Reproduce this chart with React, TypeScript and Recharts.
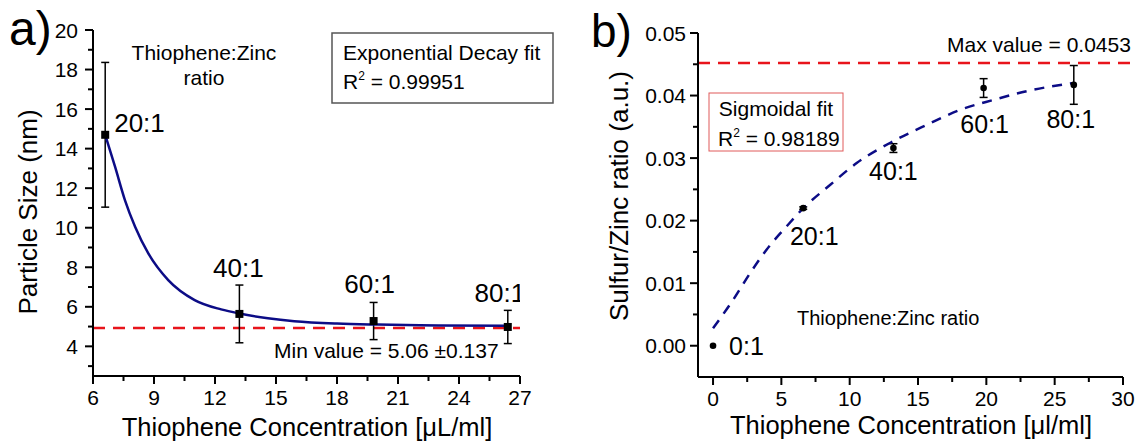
import React from 'react';
import { ComposedChart, Scatter, XAxis, YAxis, ErrorBar, ReferenceLine } from 'recharts';

// ---------- Panel a) data ----------
const aConc = [6.6, 13.2, 19.8, 26.4];
const aSize = [14.7, 5.64, 5.28, 4.98];
const aErr = [3.66, 1.46, 0.94, 0.84];
const aLabels = ['20:1', '40:1', '60:1', '80:1'];
const aFitX = [6.6, 7.08, 7.57, 8.07, 8.72, 9.7, 11.0, 12.3, 13.2, 14.6, 15.9, 18.0, 20.0, 23.0, 26.4];
const aFitY = [14.7, 13.1, 11.4, 10.05, 8.7, 7.35, 6.34, 5.87, 5.66, 5.42, 5.27, 5.15, 5.1, 5.06, 5.04];
const aMinLine = 4.93;
const aXTicks = [6, 7.5, 9, 10.5, 12, 13.5, 15, 16.5, 18, 19.5, 21, 22.5, 24, 25.5, 27];
const aXMajor = [6, 9, 12, 15, 18, 21, 24, 27];
const aYTicks = [3, 4, 5, 6, 7, 8, 9, 10, 11, 12, 13, 14, 15, 16, 17, 18, 19, 20];
const aYMajor = [4, 6, 8, 10, 12, 14, 16, 18, 20];

// ---------- Panel b) data ----------
const bConc = [0, 6.6, 13.2, 19.8, 26.4];
const bRatio = [0, 0.022, 0.0316, 0.0412, 0.0417];
const bErr = [0, 0.0002, 0.0007, 0.0015, 0.0031];
const bLabels = ['0:1', '20:1', '40:1', '60:1', '80:1'];
const bFitX = [0, 1.49, 2.71, 3.93, 5.39, 6.61, 8.56, 10.51, 13.19, 15.63, 18.07, 20.51, 22.95, 26.36];
const bFitY = [0.0028, 0.0074, 0.0116, 0.0154, 0.0191, 0.022, 0.0257, 0.0292, 0.0327, 0.0353, 0.0377, 0.0393, 0.0407, 0.042];
const bMaxLine = 0.0452;
const bXTicks = [0, 2.5, 5, 7.5, 10, 12.5, 15, 17.5, 20, 22.5, 25, 27.5, 30];
const bXMajor = [0, 5, 10, 15, 20, 25, 30];
const bYTicks = [0, 0.005, 0.01, 0.015, 0.02, 0.025, 0.03, 0.035, 0.04, 0.045, 0.05];
const bYMajor = [0, 0.01, 0.02, 0.03, 0.04, 0.05];

// ---------- styles ----------
const FONT = "'Liberation Sans', Arial, sans-serif";
const NAVY = '#0c0c86';
const RED = '#e8141b';

// label offsets (style only)
const aLabelOffset: Record<string, [number, number, string]> = {
  '20:1': [9, -3, 'start'],
  '40:1': [-1, -37, 'middle'],
  '60:1': [-4, -28, 'middle'],
  '80:1': [-8, -25, 'middle'],
};
const bLabelOffset: Record<string, [number, number, string]> = {
  '0:1': [16, 9, 'start'],
  '20:1': [11, 37, 'middle'],
  '40:1': [0, 32, 'middle'],
  '60:1': [1, 45, 'middle'],
  '80:1': [-3, 43, 'middle'],
};

const aPoints = aConc.map((x, i) => ({ x, y: aSize[i], err: aErr[i], label: aLabels[i] }));
const aFit = aFitX.map((x, i) => ({ x, y: aFitY[i] }));
const bPoints = bConc.map((x, i) => ({ x, y: bRatio[i], err: bErr[i], label: bLabels[i] }));
const bErrPoints = bPoints.filter((p) => p.err > 0);
const bFit = bFitX.map((x, i) => ({ x, y: bFitY[i] }));

const isIn = (arr: number[], v: number) => arr.some((m) => Math.abs(m - v) < 1e-9);

const makeXTick = (majors: number[], fmt: (v: number) => string) => (props: any) => {
  const { x, y, payload } = props;
  const v = payload.value;
  const major = isIn(majors, v);
  return (
    <g>
      <line x1={x} x2={x} y1={y} y2={y + (major ? 8 : 5)} stroke="#000" strokeWidth={2} />
      {major && (
        <text x={x} y={y + 29} textAnchor="middle" fontSize={21} fontFamily={FONT} fill="#000">
          {fmt(v)}
        </text>
      )}
    </g>
  );
};

const makeYTick = (majors: number[], fmt: (v: number) => string, gap: number) => (props: any) => {
  const { x, y, payload } = props;
  const v = payload.value;
  const major = isIn(majors, v);
  return (
    <g>
      <line x1={x} x2={x - (major ? 8 : 5)} y1={y} y2={y} stroke="#000" strokeWidth={2} />
      {major && (
        <text x={x - gap} y={y} dy="0.36em" textAnchor="end" fontSize={21} fontFamily={FONT} fill="#000">
          {fmt(v)}
        </text>
      )}
    </g>
  );
};

const makeShape = (kind: 'square' | 'circle', offsets: Record<string, [number, number, string]>, fontSize: number) =>
  (p: any) => {
    const { cx, cy, payload } = p;
    const off = offsets[payload.label] || [0, 0, 'middle'];
    return (
      <g>
        {kind === 'square' ? (
          <rect x={cx - 4} y={cy - 4} width={8} height={8} fill="#000" />
        ) : (
          <circle cx={cx} cy={cy} r={3.3} fill="#000" />
        )}
        <text x={cx + off[0]} y={cy + off[1]} textAnchor={off[2] as any} fontSize={fontSize} fontFamily={FONT} fill="#000">
          {payload.label}
        </text>
      </g>
    );
  };

const noShape = () => <g />;

const axisLineStyle = { stroke: '#000', strokeWidth: 2 };

export default function App() {
  return (
    <div style={{ position: 'absolute', left: 0, top: 0, width: 1136, height: 442, background: '#fff', fontFamily: FONT }}>
      {/* Panel a */}
      <div style={{ position: 'absolute', left: 0, top: 0 }}>
        <ComposedChart width={560} height={442} margin={{ top: 30, right: 40, bottom: 36, left: 33 }}>
          <XAxis
            type="number"
            dataKey="x"
            domain={[6, 27]}
            ticks={aXTicks}
            interval={0}
            tickSize={0}
            tickMargin={0}
            tickLine={false}
            axisLine={axisLineStyle}
            height={30}
            allowDataOverflow
            tick={makeXTick(aXMajor, (v) => String(v))}
          />
          <YAxis
            type="number"
            dataKey="y"
            domain={[2.5, 20]}
            ticks={aYTicks}
            interval={0}
            tickSize={0}
            tickMargin={0}
            tickLine={false}
            axisLine={axisLineStyle}
            width={60}
            allowDataOverflow
            tick={makeYTick(aYMajor, (v) => String(v), 15)}
          />
          <Scatter
            data={aFit}
            isAnimationActive={false}
            line={{ stroke: NAVY, strokeWidth: 2.5 }}
            lineType="joint"
            lineJointType="monotoneX"
            shape={noShape}
          />
          <ReferenceLine y={aMinLine} stroke={RED} strokeWidth={2.5} strokeDasharray="12 8" />
          <Scatter data={aPoints} isAnimationActive={false} shape={makeShape('square', aLabelOffset, 26)}>
            <ErrorBar dataKey="err" direction="y" width={4} strokeWidth={1.5} stroke="#000" isAnimationActive={false} />
          </Scatter>
        </ComposedChart>
      </div>

      {/* Panel b */}
      <div style={{ position: 'absolute', left: 560, top: 0 }}>
        <ComposedChart width={576} height={442} margin={{ top: 33, right: 13, bottom: 35, left: 78 }}>
          <XAxis
            type="number"
            dataKey="x"
            domain={[-1.1, 30]}
            ticks={bXTicks}
            interval={0}
            tickSize={0}
            tickMargin={0}
            tickLine={false}
            axisLine={axisLineStyle}
            height={30}
            allowDataOverflow
            tick={makeXTick(bXMajor, (v) => String(v))}
          />
          <YAxis
            type="number"
            dataKey="y"
            domain={[-0.005, 0.05]}
            ticks={bYTicks}
            interval={0}
            tickSize={0}
            tickMargin={0}
            tickLine={false}
            axisLine={axisLineStyle}
            width={60}
            allowDataOverflow
            tick={makeYTick(bYMajor, (v) => v.toFixed(2), 12)}
          />
          <ReferenceLine
            segment={[{ x: -1.1, y: bMaxLine }, { x: 31, y: bMaxLine }]}
            ifOverflow="visible"
            stroke={RED}
            strokeWidth={2.5}
            strokeDasharray="12 8"
          />
          <Scatter
            data={bFit}
            isAnimationActive={false}
            line={{ stroke: NAVY, strokeWidth: 2.5, strokeDasharray: '10 8' }}
            lineType="joint"
            lineJointType="monotoneX"
            shape={noShape}
          />
          <Scatter data={bErrPoints} isAnimationActive={false} shape={noShape}>
            <ErrorBar dataKey="err" direction="y" width={4} strokeWidth={1.5} stroke="#000" isAnimationActive={false} />
          </Scatter>
          <Scatter data={bPoints} isAnimationActive={false} shape={makeShape('circle', bLabelOffset, 25)} />
        </ComposedChart>
      </div>

      {/* Annotations */}
      <svg width={1136} height={442} style={{ position: 'absolute', left: 0, top: 0, pointerEvents: 'none' }} fontFamily={FONT}>
        <text x={9} y={45} fontSize={48} fill="#000">a)</text>
        <text x={204} y={60} fontSize={21} textAnchor="middle" fill="#000">Thiophene:Zinc</text>
        <text x={204} y={85} fontSize={21} textAnchor="middle" fill="#000">ratio</text>
        <rect x={332} y={33} width={221} height={70} fill="none" stroke="#555" strokeWidth={1.5} />
        <text x={343} y={60} fontSize={21} fill="#000">Exponential Decay fit</text>
        <text x={343} y={89} fontSize={21} fill="#000">
          R<tspan dy={-9} fontSize={12}>2</tspan>
          <tspan dy={9}> = 0.99951</tspan>
        </text>
        <text x={274} y={358} fontSize={21} fill="#000">Min value = 5.06 ±0.137</text>
        <text x={37} y={212} fontSize={26} textAnchor="middle" fill="#000" transform="rotate(-90 37 212)">
          Particle Size (nm)
        </text>
        <text x={307} y={436} fontSize={25.5} textAnchor="middle" fill="#000">Thiophene Concentration [μL/ml]</text>

        <text x={591} y={47} fontSize={46} fill="#000">b)</text>
        <rect x={709} y={93} width={134} height={58} fill="none" stroke="#e05a5a" strokeWidth={1} />
        <text x={776} y={116} fontSize={21} textAnchor="middle" fill="#000">Sigmoidal fit</text>
        <text x={718} y={146} fontSize={21} fill="#000">
          R<tspan dy={-9} fontSize={12}>2</tspan>
          <tspan dy={9}> = 0.98189</tspan>
        </text>
        <text x={947} y={52} fontSize={21} fill="#000">Max value = 0.0453</text>
        <text x={797} y={325} fontSize={20} fill="#000">Thiophene:Zinc ratio</text>
        <text x={628} y={196} fontSize={26} textAnchor="middle" fill="#000" transform="rotate(-90 628 196)">
          Sulfur/Zinc ratio (a.u.)
        </text>
        <text x={911} y={434} fontSize={25.5} textAnchor="middle" fill="#000">Thiophene Concentration [μl/ml]</text>
      </svg>
    </div>
  );
}
